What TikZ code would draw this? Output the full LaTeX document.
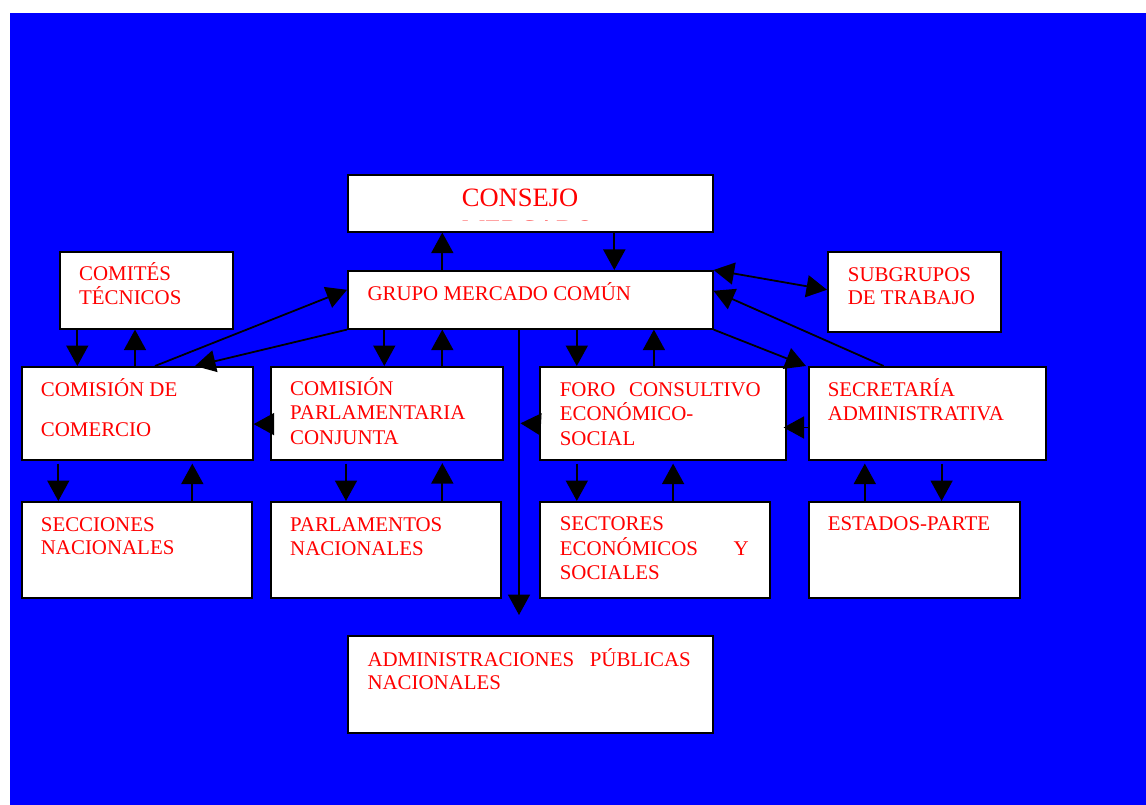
\documentclass[tikz,border=0pt]{standalone}
\usepackage{fontspec}
\setmainfont{Liberation Serif}
\usetikzlibrary{arrows.meta}
\definecolor{bgblue}{RGB}{0,0,255}
\definecolor{txred}{RGB}{255,0,0}
\newcommand\lns[2]{\vtop{\baselineskip=#1pt\relax #2}}
\tikzset{
  box/.style={draw=black, line width=1.6pt, fill=white, inner sep=0pt, anchor=north west},
  lbl/.style={text=txred, inner sep=0pt, anchor=base west, font=\fontsize{20.9}{24}\selectfont},
  arr/.style={draw=black, line width=1.8pt, -{Triangle[length=20.5pt,width=22pt]}},
  darr/.style={draw=black, line width=1.8pt, {Triangle[length=20.5pt,width=22pt]}-{Triangle[length=20.5pt,width=22pt]}},
}
\begin{document}
\begin{tikzpicture}[x=1pt,y=-1pt]
\useasboundingbox (0,0) rectangle (1146,805);
\fill[white] (0,0) rectangle (1146,805);
\fill[bgblue] (10,13) rectangle (1146,805);

% boxes
\node[box, minimum width=365pt, minimum height=57pt] (consejo) at (347,174) {};
\node[box, minimum width=365pt, minimum height=58pt] (gmc) at (347,270) {};
\node[box, minimum width=173pt, minimum height=77pt] (comites) at (59,251) {};
\node[box, minimum width=173pt, minimum height=80pt] (subg) at (827,251) {};
\node[box, minimum width=231pt, minimum height=93pt] (cc) at (21,366) {};
\node[box, minimum width=232pt, minimum height=93pt] (cpc) at (270,366) {};
\node[box, minimum width=246pt, minimum height=93pt] (foro) at (539,366) {};
\node[box, minimum width=237pt, minimum height=93pt] (secr) at (808,366) {};
\node[box, minimum width=230pt, minimum height=96pt] (secc) at (21,501) {};
\node[box, minimum width=230pt, minimum height=96pt] (parl) at (270,501) {};
\node[box, minimum width=230pt, minimum height=96pt] (sectores) at (539,501) {};
\node[box, minimum width=211pt, minimum height=96pt] (est) at (808,501) {};
\node[box, minimum width=365pt, minimum height=97pt] (admin) at (347,635) {};

% texts
\node[lbl, font=\fontsize{26.5}{30}\selectfont] (consejo-txt) at (461.7,206.7) {CONSEJO};
\begin{scope}
\clip (348,174) rectangle (711,221);
\node[lbl, font=\fontsize{26.5}{30}\selectfont] (mercado-txt) at (461.7,238.5) {MERCADO};
\end{scope}
\node[lbl] (gmc-txt) at (367.3,300) {GRUPO MERCADO COMÚN};
\node[lbl] (comites-txt) at (79,280.7) {\lns{23.5}{\hbox{COMITÉS}\hbox{TÉCNICOS}}};
\node[lbl] (subg-txt) at (847.7,281.7) {\lns{23}{\hbox{SUBGRUPOS}\hbox{DE TRABAJO}}};
\node[lbl] (cc-txt) at (40.7,396) {\lns{40.7}{\hbox{COMISIÓN DE}\hbox{COMERCIO}}};
\node[lbl] (cpc-txt) at (290,395.3) {\lns{24.5}{\hbox{COMISIÓN}\hbox{PARLAMENTARIA}\hbox{CONJUNTA}}};
\node[lbl] (foro-txt) at (559.6,396) {\lns{24.5}{\hbox{\makebox[201pt][s]{FORO CONSULTIVO}}\hbox{ECONÓMICO-}\hbox{SOCIAL}}};
\node[lbl] (secr-txt) at (827.6,396) {\lns{24.5}{\hbox{SECRETARÍA}\hbox{ADMINISTRATIVA}}};
\node[lbl] (secc-txt) at (40.7,531) {\lns{23.5}{\hbox{SECCIONES}\hbox{NACIONALES}}};
\node[lbl] (parl-txt) at (290,531) {\lns{24}{\hbox{PARLAMENTOS}\hbox{NACIONALES}}};
\node[lbl] (sectores-txt) at (559.6,530.7) {\lns{24.3}{\hbox{SECTORES}\hbox{\makebox[189pt][s]{ECONÓMICOS Y}}\hbox{SOCIALES}}};
\node[lbl] (est-txt) at (827.6,530.7) {ESTADOS-PARTE};
\node[lbl] (admin-txt) at (367.3,666) {\lns{23.3}{\hbox{\makebox[323.4pt][s]{ADMINISTRACIONES PÚBLICAS}}\hbox{NACIONALES}}};

\coordinate (junc) at (520.5,423.3);

% connectors
\draw[arr] ([xshift=95.3pt]gmc.north west) -- ([xshift=95.3pt]consejo.south west);
\draw[arr] ([xshift=267.3pt]consejo.south west) -- ([xshift=267.3pt]gmc.north west);
\draw[darr] (gmc.north east) -- ([yshift=2pt]subg.west);
\draw[arr] ([xshift=75.6pt]secr.north west) -- ([yshift=9pt]gmc.east);
\draw[arr] (gmc.south east) -- ([xshift=-2pt]secr.north west);
\draw[arr] ([xshift=134pt]cc.north west) -- ([yshift=10pt]gmc.west);
\draw[arr] (gmc.south west) -- ([xshift=174pt]cc.north west);
\draw[arr] ([xshift=18.3pt]comites.south west) -- ([xshift=56.3pt]cc.north west);
\draw[arr] ([xshift=114pt]cc.north west) -- ([xshift=76pt]comites.south west);
\draw[arr] ([yshift=-10.8pt]cpc.west) -- ([yshift=-10.8pt]cc.east);
\draw[arr] ([xshift=37.3pt]gmc.south west) -- ([xshift=114.3pt]cpc.north west);
\draw[arr] ([xshift=172.3pt]cpc.north west) -- ([xshift=95.3pt]gmc.south west);
\draw[arr] ([xshift=76pt,yshift=-3pt]cpc.south west) -- ([xshift=76pt]parl.north west);
\draw[arr] ([xshift=172.3pt]parl.north west) -- ([xshift=172.3pt,yshift=-2.5pt]cpc.south west);
\draw[arr] ([xshift=37.3pt,yshift=-3pt]cc.south west) -- ([xshift=37.3pt]secc.north west);
\draw[arr] ([xshift=171.3pt]secc.north west) -- ([xshift=171.3pt,yshift=-3pt]cc.south west);
\draw[arr] ([xshift=172pt]gmc.south west) -- ([xshift=172pt,yshift=20pt]admin.north west);
\draw[arr] ([yshift=-11pt]foro.west) -- (junc);
\draw[arr] ([xshift=229.8pt]gmc.south west) -- ([xshift=37.8pt]foro.north west);
\draw[arr] ([xshift=114.9pt]foro.north west) -- ([xshift=306.9pt]gmc.south west);
\draw[arr] ([yshift=-14.2pt]secr.west) -- ([xshift=-3pt,yshift=-14.2pt]foro.east);
\draw[arr] ([xshift=37.8pt,yshift=-3pt]foro.south west) -- ([xshift=37.8pt]sectores.north west);
\draw[arr] ([xshift=134.1pt]sectores.north west) -- ([xshift=134.1pt,yshift=-3pt]foro.south west);
\draw[arr] ([xshift=56.8pt]est.north west) -- ([xshift=56.8pt,yshift=-3pt]secr.south west);
\draw[arr] ([xshift=133.6pt,yshift=-3pt]secr.south west) -- ([xshift=133.6pt]est.north west);
\end{tikzpicture}
\end{document}
